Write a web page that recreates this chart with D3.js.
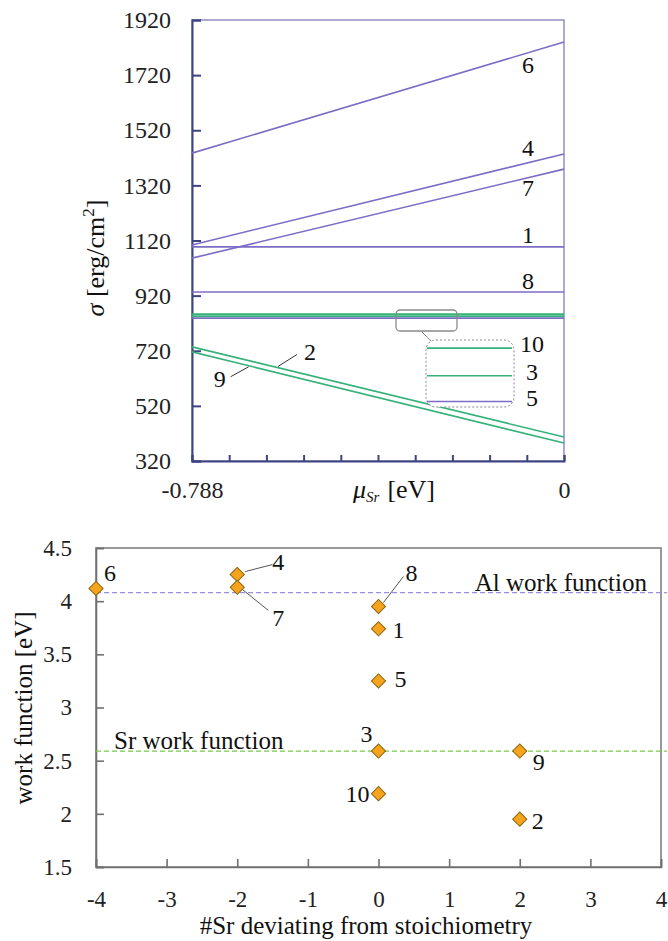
<!DOCTYPE html>
<html>
<head>
<meta charset="utf-8">
<style>
  body { margin: 0; background: #fff; }
  svg, svg text { font-family: "Liberation Serif", "Times New Roman", Tinos, "DejaVu Serif", serif; }
  .tick text { fill: #222; }
</style>
</head>
<body>
<svg width="668" height="941"></svg>
<script src="https://d3js.org/d3.v7.min.js"></script>
<script>
// surface energies: value at mu_Sr = -0.788 (left) and 0 (right)
let labels     = ["1", "2", "3", "4", "5", "6", "7", "8", "9", "10"]
let sigmaLeft  = [1097, 734, 845.5, 1104, 838.5, 1437, 1056, 933, 716, 853]
let sigmaRight = [1097, 407, 845.5, 1434, 838.5, 1840, 1379, 933, 385, 853]
let lineGroup  = ["p", "g", "g", "p", "p", "p", "p", "p", "g", "g"]
let muDomain = [-0.788, 0]
let muTickLabels = ["-0.788", "0"]
let sigmaTicks = [320, 520, 720, 920, 1120, 1320, 1520, 1720, 1920]
let insetLabels = ["10", "3", "5"]

// work function per termination
let wfX = [0, 2, 0, -2, 0, -4, -2, 0, 2, 0]
let wfY = [3.74, 1.95, 2.59, 4.25, 3.25, 4.12, 4.13, 3.95, 2.59, 2.19]
let wfTicksY = [1.5, 2, 2.5, 3, 3.5, 4, 4.5]
let wfTicksX = [-4, -3, -2, -1, 0, 1, 2, 3, 4]
let alWork = 4.08
let srWork = 2.59

let colors = { p: "#7d6cc6", g: "#35b27a" }
let serif = "'Liberation Serif', 'Times New Roman', Tinos, 'DejaVu Serif', serif"
let svg = d3.select("svg")

// ---------- top chart ----------
let x1 = d3.scaleLinear().domain(muDomain).range([192, 564])
let y1 = d3.scaleLinear().domain([320, 1920]).range([461, 20])

svg.append("rect")
    .attr("x", 192).attr("y", 20).attr("width", 372).attr("height", 441)
    .attr("fill", "none").attr("stroke", "#8e90c4").attr("stroke-width", 1.5)

let muTicks = d3.range(11).map(i => muDomain[0] + i * (muDomain[1] - muDomain[0]) / 10)

svg.append("g")
    .attr("class", "x1 axis")
    .attr("transform", "translate(0,461)")
    .call(d3.axisBottom(x1).tickValues(muTicks).tickSize(-6).tickPadding(20)
        .tickFormat((d, i) => i == 0 ? muTickLabels[0] : (i == 10 ? muTickLabels[1] : "")))
    .call(g => g.attr("font-family", serif))
    .call(g => g.selectAll("line, path").attr("stroke", "#3d4480").attr("stroke-width", 2))
    .call(g => g.selectAll("text").attr("font-size", 24))

svg.append("g")
    .attr("class", "y1 axis")
    .attr("transform", "translate(192,0)")
    .call(d3.axisLeft(y1).tickValues(sigmaTicks).tickSize(-9).tickPadding(21).tickFormat(d3.format("d")))
    .call(g => g.attr("font-family", serif))
    .call(g => g.selectAll("line, path").attr("stroke", "#3d4480").attr("stroke-width", 2))
    .call(g => g.selectAll("text").attr("font-size", 24))

let lineData = labels.map((l, i) => ({ label: l, g: lineGroup[i], pts: [[muDomain[0], sigmaLeft[i]], [muDomain[1], sigmaRight[i]]] }))

let lineGen = d3.line().x(d => x1(d[0])).y(d => y1(d[1]))

svg.append("g").selectAll("path")
    .data(lineData)
    .join("path")
    .attr("d", d => lineGen(d.pts))
    .attr("fill", "none")
    .attr("stroke", d => colors[d.g])
    .attr("stroke-width", 1.6)

// value on a line at a given mu
function sigmaAt(i, mu) {
    let t = (mu - muDomain[0]) / (muDomain[1] - muDomain[0])
    return sigmaLeft[i] + t * (sigmaRight[i] - sigmaLeft[i])
}

// right side labels
let rightLbl = { "6": 23, "4": -6, "7": 18, "1": -12, "8": -11 }
Object.keys(rightLbl).forEach(k => {
    let i = labels.indexOf(k)
    svg.append("text")
        .attr("x", 528).attr("y", y1(sigmaRight[i]) + rightLbl[k])
        .attr("dy", "0.35em").attr("text-anchor", "middle")
        .attr("font-size", 24).attr("fill", "#111").text(k)
})

// leaders for 2 and 9
let lead = [
    { k: "2", mu: -0.608, dx1: 1, dy1: -1, dx2: 20, dy2: -13, lx: 33, ly: -16 },
    { k: "9", mu: -0.668, dx1: 0, dy1: 1, dx2: -18, dy2: 11, lx: -29, ly: 13 }
]
lead.forEach(o => {
    let i = labels.indexOf(o.k)
    let px = x1(o.mu), py = y1(sigmaAt(i, o.mu))
    svg.append("line")
        .attr("x1", px + o.dx1).attr("y1", py + o.dy1)
        .attr("x2", px + o.dx2).attr("y2", py + o.dy2)
        .attr("stroke", "#333").attr("stroke-width", 1)
    svg.append("text")
        .attr("x", px + o.lx).attr("y", py + o.ly)
        .attr("dy", "0.35em").attr("text-anchor", "middle")
        .attr("font-size", 24).attr("fill", "#111").text(o.k)
})

// inset: zoom on lines 10, 3, 5
svg.append("rect")
    .attr("x", 396).attr("y", 310).attr("width", 61).attr("height", 21).attr("rx", 4)
    .attr("fill", "none").attr("stroke", "#8a8a8a").attr("stroke-width", 1.3)
svg.append("line")
    .attr("x1", 422).attr("y1", 332).attr("x2", 431).attr("y2", 341)
    .attr("stroke", "#8a8a8a").attr("stroke-width", 1)

let yIn = d3.scaleLinear().domain([855.2, 837]).range([340, 407])
let insetG = svg.append("g")
insetG.append("rect")
    .attr("x", 426).attr("y", 340).attr("width", 88).attr("height", 67).attr("rx", 10)
    .attr("fill", "#fff").attr("stroke", "#8a8a8a").attr("stroke-width", 1)
    .attr("stroke-dasharray", "2,2")
insetLabels.forEach(k => {
    let i = labels.indexOf(k)
    insetG.append("line")
        .attr("x1", 427).attr("x2", 512)
        .attr("y1", yIn(sigmaLeft[i])).attr("y2", yIn(sigmaLeft[i]))
        .attr("stroke", colors[lineGroup[i]]).attr("stroke-width", 1.6)
    svg.append("text")
        .attr("x", 532).attr("y", yIn(sigmaLeft[i]) - 4)
        .attr("dy", "0.35em").attr("text-anchor", "middle")
        .attr("font-size", 24).attr("fill", "#111").text(k)
})

// axis titles top
let yt1 = svg.append("text")
    .attr("transform", "translate(104,258) rotate(-90)")
    .attr("text-anchor", "middle").attr("font-size", 26).attr("fill", "#111")
yt1.append("tspan").attr("font-style", "italic").text("σ")
yt1.append("tspan").text(" [erg/cm")
yt1.append("tspan").attr("font-size", 17).attr("dy", -10).text("2")
yt1.append("tspan").attr("dy", 10).text("]")

let xt1 = svg.append("text")
    .attr("x", 394).attr("y", 498)
    .attr("text-anchor", "middle").attr("font-size", 26).attr("fill", "#111")
xt1.append("tspan").attr("font-style", "italic").text("μ")
xt1.append("tspan").attr("font-style", "italic").attr("font-size", 15).attr("dy", 4).text("Sr")
xt1.append("tspan").attr("dy", -4).attr("dx", 8).text("[eV]")

// ---------- bottom chart ----------
let x2 = d3.scaleLinear().domain([-4, 4]).range([96, 661])
let y2 = d3.scaleLinear().domain([1.5, 4.5]).range([867, 548])

svg.append("rect")
    .attr("x", 96).attr("y", 548).attr("width", 565).attr("height", 319)
    .attr("fill", "none").attr("stroke", "#808080").attr("stroke-width", 1.6)

svg.append("g")
    .attr("transform", "translate(0,867)")
    .call(d3.axisBottom(x2).tickValues(wfTicksX).tickSize(-8).tickPadding(24).tickFormat(d => String(d)))
    .call(g => g.attr("font-family", serif))
    .call(g => g.selectAll("line, path").attr("stroke", "#707070").attr("stroke-width", 1.6))
    .call(g => g.selectAll("text").attr("font-size", 23))

svg.append("g")
    .attr("transform", "translate(96,0)")
    .call(d3.axisLeft(y2).tickValues(wfTicksY).tickSize(-8).tickPadding(24).tickFormat(d => String(d)))
    .call(g => g.attr("font-family", serif))
    .call(g => g.selectAll("line, path").attr("stroke", "#707070").attr("stroke-width", 1.6))
    .call(g => g.selectAll("text").attr("font-size", 23))

// reference lines
svg.append("line")
    .attr("x1", x2(-4)).attr("x2", x2(4) + 6)
    .attr("y1", y2(alWork)).attr("y2", y2(alWork))
    .attr("stroke", "#9d8fe3").attr("stroke-width", 1.3).attr("stroke-dasharray", "5,3")
svg.append("line")
    .attr("x1", x2(-4)).attr("x2", x2(4) + 6)
    .attr("y1", y2(srWork)).attr("y2", y2(srWork))
    .attr("stroke", "#79c74a").attr("stroke-width", 1.3).attr("stroke-dasharray", "5,3")

svg.append("text").attr("x", 647).attr("y", y2(alWork) - 2)
    .attr("text-anchor", "end").attr("font-size", 25).attr("fill", "#111").text("Al work function")
svg.append("text").attr("x", 114).attr("y", y2(srWork) - 2)
    .attr("font-size", 25).attr("fill", "#111").text("Sr work function")

// label offsets and leaders (pixels from the point)
let lblOff = [
    [20, 1], [18, 1], [-12, -17], [41, -13], [22, -2],
    [14, -16], [41, 30], [33, -34], [19, 11], [-21, 0]
]
let leaders = { "4": [8, -3, 35, -10], "7": [5, 2, 31, 23], "8": [5, -4, 25, -30] }

let pts = labels.map((l, i) => ({ label: l, x: wfX[i], y: wfY[i], off: lblOff[i] }))

Object.keys(leaders).forEach(k => {
    let i = labels.indexOf(k), L = leaders[k]
    svg.append("line")
        .attr("x1", x2(wfX[i]) + L[0]).attr("y1", y2(wfY[i]) + L[1])
        .attr("x2", x2(wfX[i]) + L[2]).attr("y2", y2(wfY[i]) + L[3])
        .attr("stroke", "#555").attr("stroke-width", 1)
})

svg.append("g").selectAll("path")
    .data(pts)
    .join("path")
    .attr("d", d3.symbol(d3.symbolSquare, 100))
    .attr("transform", d => `translate(${x2(d.x)},${y2(d.y)}) rotate(45)`)
    .attr("fill", "#f7a41d")
    .attr("stroke", "#8a6512")
    .attr("stroke-width", 1)

svg.append("g").selectAll("text")
    .data(pts)
    .join("text")
    .attr("x", d => x2(d.x) + d.off[0])
    .attr("y", d => y2(d.y) + d.off[1])
    .attr("dy", "0.35em").attr("text-anchor", "middle")
    .attr("font-size", 24).attr("fill", "#111")
    .text(d => d.label)

svg.append("text")
    .attr("transform", "translate(32,708) rotate(-90)")
    .attr("text-anchor", "middle").attr("font-size", 25).attr("fill", "#111")
    .text("work function [eV]")
svg.append("text")
    .attr("x", 366).attr("y", 934)
    .attr("text-anchor", "middle").attr("font-size", 25).attr("fill", "#111")
    .text("#Sr deviating from stoichiometry")
</script>
</body>
</html>
